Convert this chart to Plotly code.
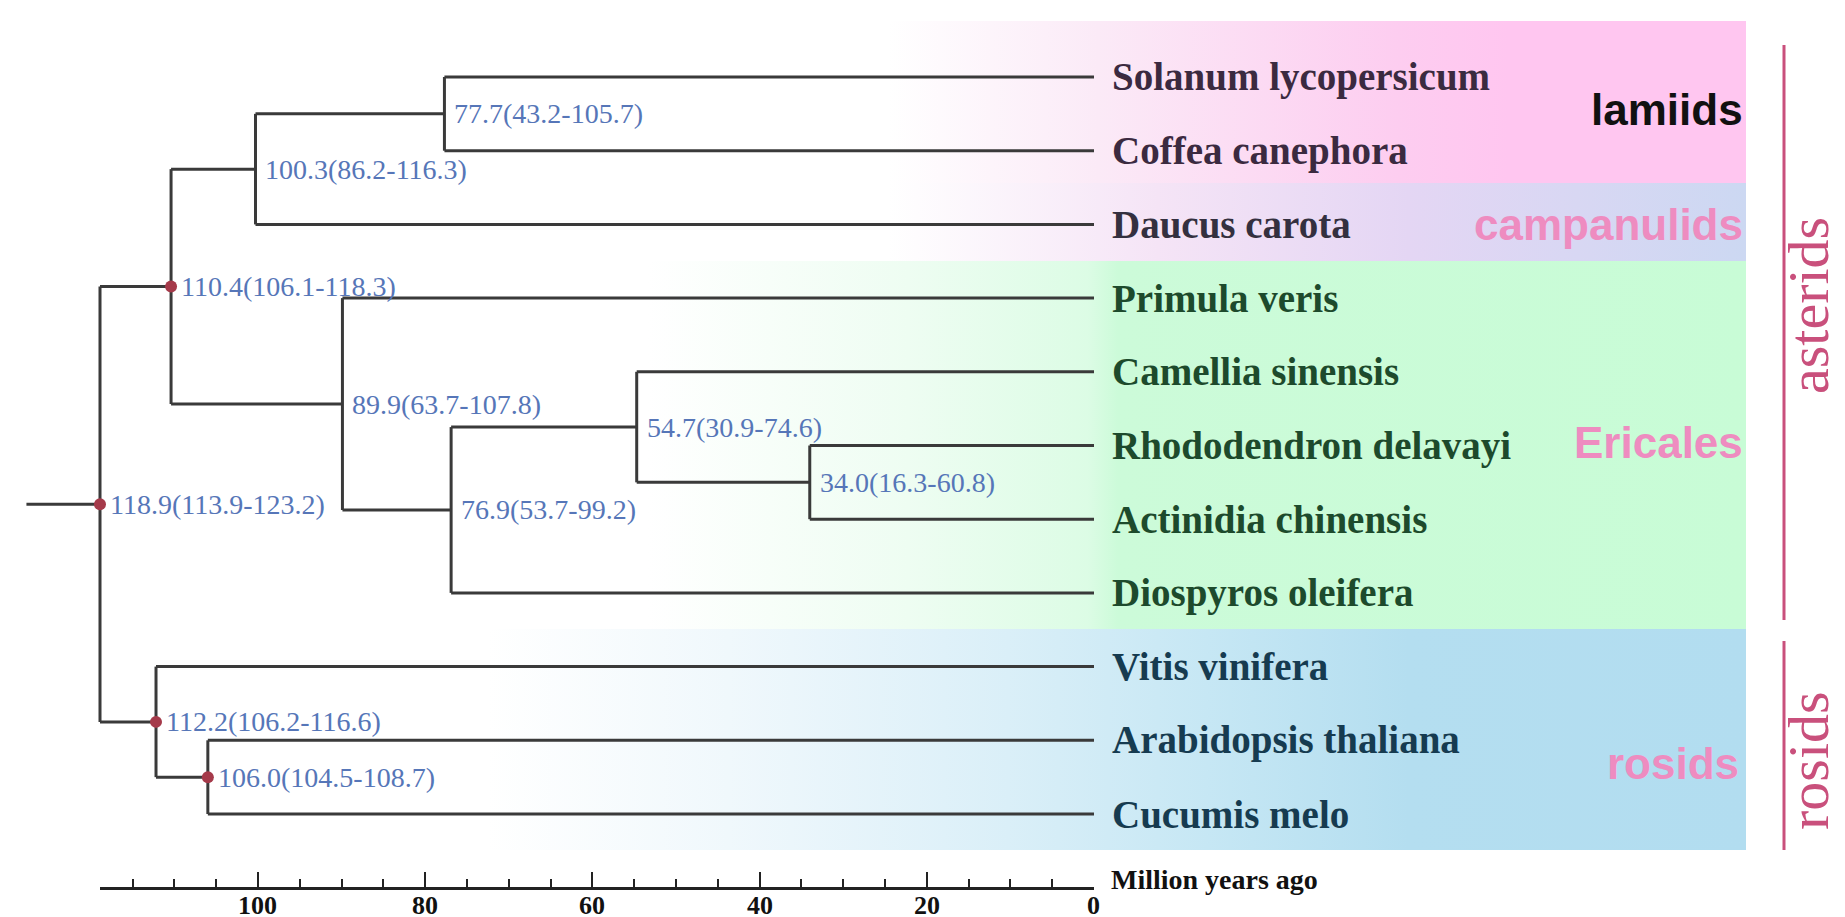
import plotly.graph_objects as go

# ---------------- data ----------------
leaves = ["Solanum lycopersicum", "Coffea canephora", "Daucus carota", "Primula veris",
          "Camellia sinensis", "Rhododendron delavayi", "Actinidia chinensis",
          "Diospyros oleifera", "Vitis vinifera", "Arabidopsis thaliana", "Cucumis melo"]
leaf_group = ["lamiids", "lamiids", "campanulids", "Ericales", "Ericales", "Ericales",
              "Ericales", "Ericales", "rosids", "rosids", "rosids"]

node_ids = ["A", "B", "C", "D", "E", "F", "G", "H", "I", "R"]
node_age = [77.7, 100.3, 34.0, 54.7, 76.9, 89.9, 110.4, 106.0, 112.2, 118.9]
node_low = [43.2, 86.2, 16.3, 30.9, 53.7, 63.7, 106.1, 104.5, 106.2, 113.9]
node_high = [105.7, 116.3, 60.8, 74.6, 99.2, 107.8, 118.3, 108.7, 116.6, 123.2]
child_a = ["Solanum lycopersicum", "A", "Rhododendron delavayi", "Camellia sinensis", "D",
           "Primula veris", "B", "Arabidopsis thaliana", "Vitis vinifera", "G"]
child_b = ["Coffea canephora", "Daucus carota", "Actinidia chinensis", "C",
           "Diospyros oleifera", "E", "F", "Cucumis melo", "H", "I"]
calibrated = [False, False, False, False, False, False, True, True, True, True]
root_stem_age = 127.7

axis_major = [100, 80, 60, 40, 20, 0]
axis_title = "Million years ago"

clade_names = ["lamiids", "campanulids", "Ericales", "rosids"]
major_clades = ["asterids", "rosids"]

# ---------------- layout geometry ----------------
W, H = 1845, 917
X0, S = 1086.0, 8.36      # pixel of 0 Myr, pixels per Myr
Y0, D = 69.0, 73.7        # pixel of first leaf, pixels per leaf


def px_to_t(px):
    return (X0 - px) / S


def py_to_i(py):
    return (py - Y0) / D


# positions
ypos = {name: float(i) for i, name in enumerate(leaves)}
age = {name: 0.0 for name in leaves}
for nid, a, ca, cb in zip(node_ids, node_age, child_a, child_b):
    ypos[nid] = (ypos[ca] + ypos[cb]) / 2
    age[nid] = a

fig = go.Figure()

# ---------------- gradient bands ----------------
band_right = 1738
bands = [
    # (top px, bottom px, [(px, color), ...])
    (13, 175, [(880, "#FFFFFF"), (1090, "#FBEAF7"), (1390, "#FDCDF0"), (1500, "#FFC6F0"), (1738, "#FFC6F0")]),
    (175, 253, [(880, "#FFFFFF"), (1150, "#F5E4F6"), (1400, "#E4D6F4"), (1738, "#CCD8F2")]),
    (253, 621, [(640, "#FFFFFF"), (900, "#EEFDF2"), (1080, "#DCFCE5"), (1110, "#CCFBD9"), (1738, "#C8FCD6")]),
    (621, 842, [(480, "#FFFFFF"), (720, "#F0F8FC"), (1000, "#DAEFF8"), (1200, "#C6E7F4"), (1400, "#B4DEF0"), (1738, "#B2DDF0")]),
]
for top, bot, stops in bands:
    left = stops[0][0]
    tl, tr = px_to_t(left), px_to_t(band_right)
    yt, yb = py_to_i(top), py_to_i(bot)
    cs = [[(p - left) / (band_right - left), c] for p, c in stops]
    fig.add_trace(go.Scatter(
        x=[tl, tr, tr, tl, tl], y=[yt, yt, yb, yb, yt], mode="none", fill="toself",
        fillgradient=dict(type="horizontal", start=tl, stop=tr, colorscale=cs),
        hoverinfo="skip", showlegend=False))

# ---------------- tree branches ----------------
lx, ly = [], []
for nid, ca, cb in zip(node_ids, child_a, child_b):
    a = age[nid]
    lx += [a, a, None]
    ly += [ypos[ca], ypos[cb], None]
    for c in (ca, cb):
        lx += [a, age[c], None]
        ly += [ypos[c], ypos[c], None]
lx += [root_stem_age, age["R"], None]
ly += [ypos["R"], ypos["R"], None]
fig.add_trace(go.Scatter(x=lx, y=ly, mode="lines", line=dict(color="#3A3A3A", width=3),
                         hoverinfo="skip", showlegend=False))

# calibration points
cx = [a for a, c in zip(node_age, calibrated) if c]
cy = [ypos[n] for n, c in zip(node_ids, calibrated) if c]
fig.add_trace(go.Scatter(x=cx, y=cy, mode="markers",
                         marker=dict(color="#A53A4A", size=12, line=dict(width=0)),
                         hoverinfo="skip", showlegend=False))

annotations = []
# node labels
for nid, a, lo, hi in zip(node_ids, node_age, node_low, node_high):
    annotations.append(dict(
        x=a, y=ypos[nid], xref="x", yref="y", xanchor="left", yanchor="middle",
        xshift=8, showarrow=False, text=f"{a:.1f}({lo:.1f}-{hi:.1f})",
        font=dict(family="Liberation Serif", size=28, color="#5676B8")))

# leaf labels
leaf_colors = {"lamiids": "#3B2A40", "campanulids": "#34303F",
               "Ericales": "#1D4A2C", "rosids": "#163B50"}
for name, g in zip(leaves, leaf_group):
    annotations.append(dict(
        x=0, y=ypos[name], xref="x", yref="y", xanchor="left", yanchor="middle",
        xshift=16, showarrow=False, text=name,
        font=dict(family="Liberation Serif", size=39, color=leaf_colors[g], weight="bold")))

# clade labels
clade_y = [py_to_i(101), 2.0, py_to_i(434), py_to_i(755)]
clade_col = ["#111111", "#EE8CC0", "#EE8CC0", "#EE8CC0"]
clade_right = [1737, 1737, 1737, 1733]
for name, y, col, xr in zip(clade_names, clade_y, clade_col, clade_right):
    annotations.append(dict(
        x=xr / W, y=y, xref="paper", yref="y", xanchor="right", yanchor="middle",
        showarrow=False, text=name,
        font=dict(family="Liberation Sans", size=44, color=col, weight="bold")))

# major clade bars + labels
bar_col = "#C9507C"
shapes = []
bar_spans = [(37, 612), (633, 842)]
label_y = [298, 753]
for name, (t, b), ly_ in zip(major_clades, bar_spans, label_y):
    shapes.append(dict(type="line", xref="paper", yref="y", x0=1776 / W, x1=1776 / W,
                       y0=py_to_i(t), y1=py_to_i(b), line=dict(color=bar_col, width=3)))
    annotations.append(dict(
        x=1800 / W, y=py_to_i(ly_), xref="paper", yref="y", xanchor="center", yanchor="middle",
        showarrow=False, text=name, textangle=-90,
        font=dict(family="Liberation Serif", size=58, color=bar_col)))

# axis title
annotations.append(dict(
    x=1101 / W, y=1 - 871 / H, xref="paper", yref="paper", xanchor="left", yanchor="middle",
    showarrow=False, text=axis_title,
    font=dict(family="Liberation Serif", size=28, color="#111111", weight="bold")))

# scale-bar tick labels, placed through the scale axis
for v in axis_major:
    annotations.append(dict(
        x=v, y=4 / H, xref="x2", yref="paper", xanchor="center", yanchor="bottom",
        showarrow=False, text=str(v), borderpad=0,
        font=dict(family="Liberation Serif", size=26, color="#111111", weight="bold")))

# invisible trace to activate the scale axis
root_age = age["R"]
fig.add_trace(go.Scatter(x=[0], y=[0], xaxis="x2", yaxis="y", mode="markers",
                         marker=dict(size=1, opacity=0), hoverinfo="skip", showlegend=False))

fig.update_layout(
    width=W, height=H,
    margin=dict(l=0, r=0, t=0, b=0),
    paper_bgcolor="white", plot_bgcolor="rgba(0,0,0,0)",
    showlegend=False,
    xaxis=dict(range=[px_to_t(0), px_to_t(W)], visible=False, domain=[0, 1]),
    yaxis=dict(range=[py_to_i(H), py_to_i(0)], visible=False, domain=[0, 1]),
    xaxis2=dict(
        domain=[(X0 - S * root_age) / W, X0 / W], range=[root_age, 0],
        anchor="free", position=1 - 880 / H,
        showline=True, linewidth=2.5, linecolor="#222222",
        showgrid=False, zeroline=False,
        tickmode="array", tickvals=axis_major, showticklabels=False,
        ticks="inside", ticklen=15, tickwidth=2, tickcolor="#222222",
        minor=dict(dtick=5, tick0=0, ticks="inside", ticklen=8, tickwidth=2, tickcolor="#222222"),
    ),
    annotations=annotations,
    shapes=shapes,
)

fig.write_html("out.html")
